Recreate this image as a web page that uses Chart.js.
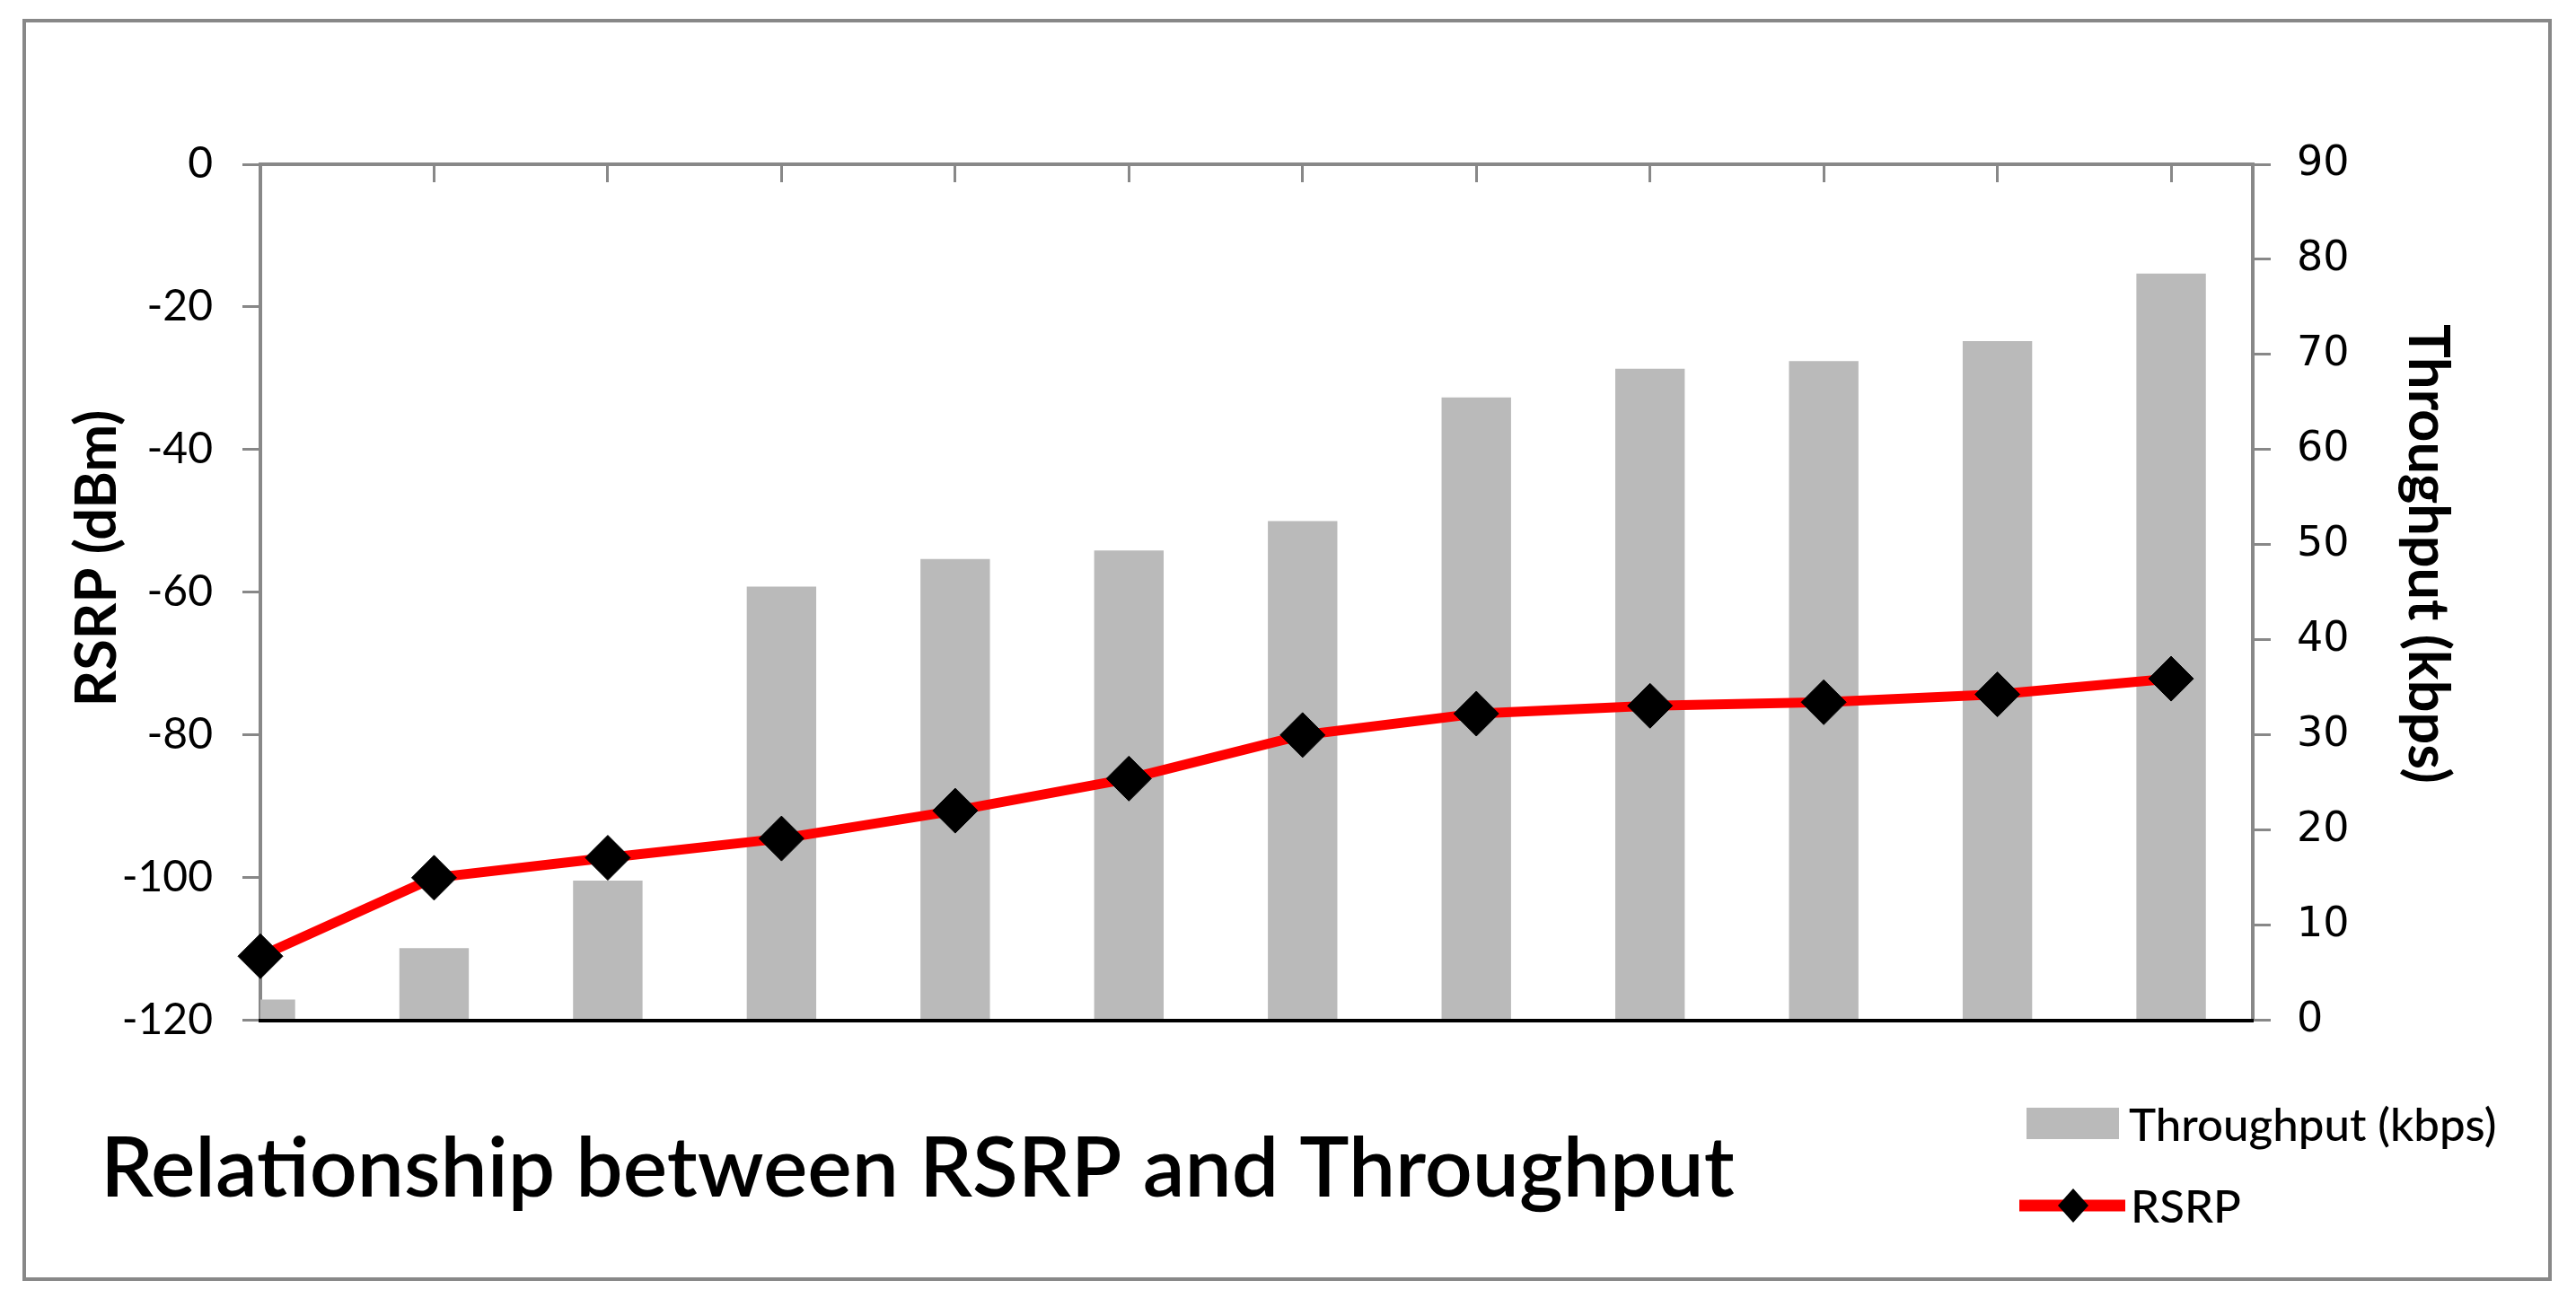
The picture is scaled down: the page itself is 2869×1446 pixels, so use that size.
<!DOCTYPE html>
<html>
<head>
<meta charset="utf-8">
<title>Relationship between RSRP and Throughput</title>
<script src="https://cdn.jsdelivr.net/npm/chart.js@4.4.1/dist/chart.umd.min.js"></script>
<style>
  html, body { margin: 0; padding: 0; background: #fff; }
  canvas { display: block; }
</style>
</head>
<body>
<canvas id="chart" width="2869" height="1446"></canvas>
<script>
// Measurement samples (one per drive-test point), RSRP on the left axis, throughput bars on the right
const sampleNo = [1, 2, 3, 4, 5, 6, 7, 8, 9, 10, 11, 12];
const rsrp = [-111, -100, -97.2, -94.5, -90.6, -86.1, -80, -77, -75.9, -75.4, -74.3, -72.1];
const throughput = [2.2, 7.6, 14.7, 45.6, 48.5, 49.4, 52.5, 65.5, 68.5, 69.3, 71.4, 78.5];
const rsrpTicks = [-120, -100, -80, -60, -40, -20, 0];
const throughputTicks = [0, 10, 20, 30, 40, 50, 60, 70, 80, 90];

const GRAY = "#888888";
const BAR = "#bababa";
const RED = "#ff0000";

const ticksFrom = (list) => (s) => { s.ticks = list.map((v) => ({ value: v })); };

function diamond(ctx, x, y, rx, ry) {
  ctx.beginPath();
  ctx.moveTo(x, y - ry);
  ctx.lineTo(x + rx, y);
  ctx.lineTo(x, y + ry);
  ctx.lineTo(x - rx, y);
  ctx.closePath();
  ctx.fill();
}

// outer frame, rotated axis titles and the stacked legend under the plot
const decorations = {
  id: "decorations",
  beforeDraw(chart) {
    const ctx = chart.ctx;
    ctx.save();
    ctx.fillStyle = "#fff";
    ctx.fillRect(0, 0, chart.width, chart.height);
    ctx.restore();
  },
  afterDraw(chart) {
    const ctx = chart.ctx;
    const area = chart.chartArea;
    const midY = (area.top + area.bottom) / 2 - 40;
    ctx.save();

    ctx.strokeStyle = GRAY;
    ctx.lineWidth = 4;
    ctx.strokeRect(27, 23, 2813, 1402);

    ctx.fillStyle = "#000";
    ctx.font = "bold 63px Lato";
    ctx.textAlign = "center";
    ctx.textBaseline = "middle";
    ctx.save();
    ctx.translate(area.left - 181, midY + 2);
    ctx.rotate(-Math.PI / 2);
    ctx.fillText("RSRP (dBm)", 0, 0);
    ctx.restore();
    ctx.save();
    ctx.translate(area.right + 194, midY - 3);
    ctx.rotate(Math.PI / 2);
    ctx.fillText("Throughput (kbps)", 0, 0);
    ctx.restore();

    const [lineDs, barDs] = chart.data.datasets;
    ctx.textAlign = "left";
    ctx.textBaseline = "alphabetic";
    ctx.font = "500 51px Lato";

    ctx.fillStyle = barDs.backgroundColor;
    ctx.fillRect(2257, 1234, 103, 35);
    ctx.fillStyle = "#000";
    ctx.fillText(barDs.label, 2371, 1271);

    ctx.strokeStyle = lineDs.borderColor;
    ctx.lineWidth = 13;
    ctx.beginPath();
    ctx.moveTo(2249, 1343);
    ctx.lineTo(2367, 1343);
    ctx.stroke();
    ctx.fillStyle = lineDs.pointBackgroundColor;
    diamond(ctx, 2309, 1343, 17, 19);
    ctx.fillStyle = "#000";
    ctx.fillText(lineDs.label, 2373, 1362);

    ctx.restore();
  },
};

function draw() {
  new Chart(document.getElementById("chart"), {
    type: "bar",
    data: {
      datasets: [
        {
          type: "line",
          label: "RSRP",
          data: sampleNo.map((x, i) => ({ x, y: rsrp[i] })),
          xAxisID: "x",
          yAxisID: "y",
          borderColor: RED,
          borderWidth: 11,
          tension: 0,
          pointStyle: "rectRot",
          pointRadius: 25,
          pointBackgroundColor: "#000",
          pointBorderColor: "#000",
          pointBorderWidth: 1,
          clip: false,
          order: 0,
        },
        {
          type: "bar",
          label: "Throughput (kbps)",
          data: sampleNo.map((x, i) => ({ x, y: throughput[i] })),
          xAxisID: "x",
          yAxisID: "y2",
          backgroundColor: BAR,
          categoryPercentage: 1,
          barPercentage: 0.4,
          order: 1,
        },
      ],
    },
    options: {
      responsive: false,
      animation: false,
      layout: { padding: { left: 112, right: 0, top: 0, bottom: 20 } },
      plugins: {
        legend: { display: false },
        tooltip: { enabled: false },
        title: {
          display: true,
          position: "bottom",
          align: "start",
          text: "Relationship between RSRP and Throughput",
          color: "#000",
          font: { family: "Lato", size: 93, weight: "600", lineHeight: 1.2 },
          padding: { top: 60, bottom: 67 },
        },
      },
      scales: {
        x: {
          type: "linear",
          position: "bottom",
          offset: false,
          min: 1,
          max: 12.47,
          afterBuildTicks: ticksFrom(sampleNo),
          ticks: { display: false },
          grid: { display: false, offset: false },
          border: { color: "#000", width: 4, z: 1 },
          afterFit: (s) => { s.height = 50.6; },
        },
        x2: {
          type: "linear",
          position: "top",
          offset: false,
          min: 1,
          max: 12.47,
          afterBuildTicks: ticksFrom(sampleNo),
          ticks: { display: false },
          grid: { offset: false, drawOnChartArea: false, drawTicks: true, tickLength: -20, color: GRAY, lineWidth: 3 },
          border: { color: GRAY, width: 4 },
          afterFit: (s) => { s.height = 183; },
        },
        y: {
          position: "left",
          min: -120,
          max: 0,
          afterBuildTicks: ticksFrom(rsrpTicks),
          ticks: { color: "#000", padding: 33, font: { family: "Lato", size: 48 } },
          grid: { drawOnChartArea: false, tickLength: 20, color: GRAY, lineWidth: 3 },
          border: { color: GRAY, width: 4 },
          afterFit: (s) => { s.width = 178; },
        },
        y2: {
          position: "right",
          min: 0,
          max: 90,
          afterBuildTicks: ticksFrom(throughputTicks),
          ticks: { color: "#000", padding: 29, font: { family: "DejaVu Sans", size: 46 } },
          grid: { drawOnChartArea: false, tickLength: 20, color: GRAY, lineWidth: 3 },
          border: { color: GRAY, width: 4 },
          afterFit: (s) => { s.width = 360; },
        },
      },
    },
    plugins: [decorations],
  });
}

Promise.all([
  document.fonts.load("48px Lato"),
  document.fonts.load("bold 63px Lato"),
  document.fonts.load("600 93px Lato"),
  document.fonts.load("500 51px Lato"),
  document.fonts.load('46px "DejaVu Sans"'),
]).then(draw, draw);
</script>
</body>
</html>
